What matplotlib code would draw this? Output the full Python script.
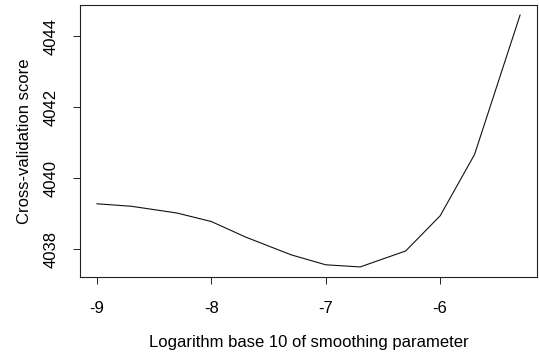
import numpy as np
import matplotlib
matplotlib.use("Agg")
import matplotlib.pyplot as plt

# smoothing parameters 1e-9, 2e-9, 5e-9, ... 5e-6
smoothing = [1e-9, 2e-9, 5e-9, 1e-8, 2e-8, 5e-8, 1e-7, 2e-7, 5e-7, 1e-6, 2e-6, 5e-6]
cv_score = [4039.28, 4039.21, 4039.02, 4038.78, 4038.34, 4037.84,
            4037.56, 4037.50, 4037.95, 4038.94, 4040.67, 4044.60]
x_ticks = [-9, -8, -7, -6]
y_ticks = [4038, 4040, 4042, 4044]

plt.rcParams['font.family'] = ['Liberation Sans', 'DejaVu Sans']

fig = plt.figure(figsize=(5.39, 3.56), dpi=100, facecolor='white')
ax = fig.add_axes([80 / 539, 1 - 277 / 356, 457 / 539, 272 / 356])

lx = np.log10(smoothing)
ax.plot(lx, cv_score, color='#111111', lw=0.8)

# R-style 4% padding
xr = lx.max() - lx.min()
yr = max(cv_score) - min(cv_score)
ax.set_xlim(lx.min() - 0.04 * xr, lx.max() + 0.04 * xr)
ax.set_ylim(min(cv_score) - 0.04 * yr, max(cv_score) + 0.04 * yr)

ax.set_xticks(x_ticks)
ax.set_xticklabels([str(t) for t in x_ticks])
ax.set_yticks(y_ticks)
ax.set_yticklabels([str(t) for t in y_ticks], rotation=90, va='center')

ax.tick_params(direction='out', length=5, width=0.7, labelsize=12, color='#222222')
ax.tick_params(axis='x', pad=12.5)
ax.tick_params(axis='y', pad=10.5)
for sp in ax.spines.values():
    sp.set_linewidth(0.8)
    sp.set_color('#222222')

ax.set_xlabel('Logarithm base 10 of smoothing parameter', fontsize=12, va='center')
ax.xaxis.set_label_coords(0.5, (277 - 342) / 272)
ax.set_ylabel('Cross-validation score', fontsize=12, va='center')
ax.yaxis.set_label_coords((25 - 80) / 457, 0.5)

fig.savefig('out.png', dpi=100, facecolor='white')
